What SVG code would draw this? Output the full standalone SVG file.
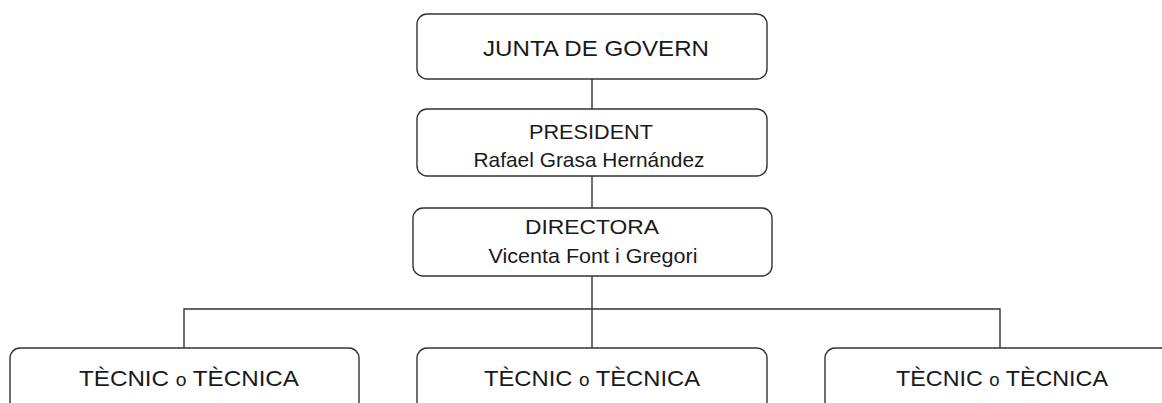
<svg xmlns="http://www.w3.org/2000/svg" width="1162" height="403" viewBox="0 0 1162 403">
<style>
.box{fill:#fff;stroke:#333;stroke-width:1.4}
.ln{fill:none;stroke:#333;stroke-width:1.4}
text{font-family:"Liberation Sans",Arial,sans-serif;fill:#1a1a1a;text-anchor:middle}
.t{font-size:22px}
.s{font-size:21px}
.o{font-size:17.5px}
</style>
<rect width="1162" height="403" fill="#fff"/>
<g id="connectors">
<line class="ln" x1="592" y1="79" x2="592" y2="109"/>
<line class="ln" x1="592" y1="176" x2="592" y2="208"/>
<line class="ln" x1="592" y1="276" x2="592" y2="348"/>
<polyline class="ln" points="184,348 184,309 1000,309 1000,348"/>
</g>
<g id="junta">
<rect class="box" x="417" y="14" width="350" height="65" rx="10"/>
<text class="t" x="596" y="56" textLength="226" lengthAdjust="spacingAndGlyphs">JUNTA DE GOVERN</text>
</g>
<g id="president">
<rect class="box" x="417" y="109" width="350" height="67" rx="10"/>
<text class="s" x="591" y="139" textLength="124" lengthAdjust="spacingAndGlyphs">PRESIDENT</text>
<text class="s" x="589" y="167" textLength="231" lengthAdjust="spacingAndGlyphs">Rafael Grasa Hernández</text>
</g>
<g id="directora">
<rect class="box" x="413" y="208" width="359" height="68" rx="10"/>
<text class="s" x="592" y="234" textLength="134" lengthAdjust="spacingAndGlyphs">DIRECTORA</text>
<text class="s" x="593" y="263" textLength="209" lengthAdjust="spacingAndGlyphs">Vicenta Font i Gregori</text>
</g>
<g id="tecnic1">
<rect class="box" x="10" y="348" width="349" height="70" rx="10"/>
<text class="t" x="189" y="386" textLength="220" lengthAdjust="spacingAndGlyphs">TÈCNIC <tspan class="o">o</tspan> TÈCNICA</text>
</g>
<g id="tecnic2">
<rect class="box" x="417" y="348" width="350" height="70" rx="10"/>
<text class="t" x="592" y="386" textLength="216" lengthAdjust="spacingAndGlyphs">TÈCNIC <tspan class="o">o</tspan> TÈCNICA</text>
</g>
<g id="tecnic3">
<rect class="box" x="825" y="348" width="350" height="70" rx="10"/>
<text class="t" x="1002" y="386" textLength="212" lengthAdjust="spacingAndGlyphs">TÈCNIC <tspan class="o">o</tspan> TÈCNICA</text>
</g>
</svg>
